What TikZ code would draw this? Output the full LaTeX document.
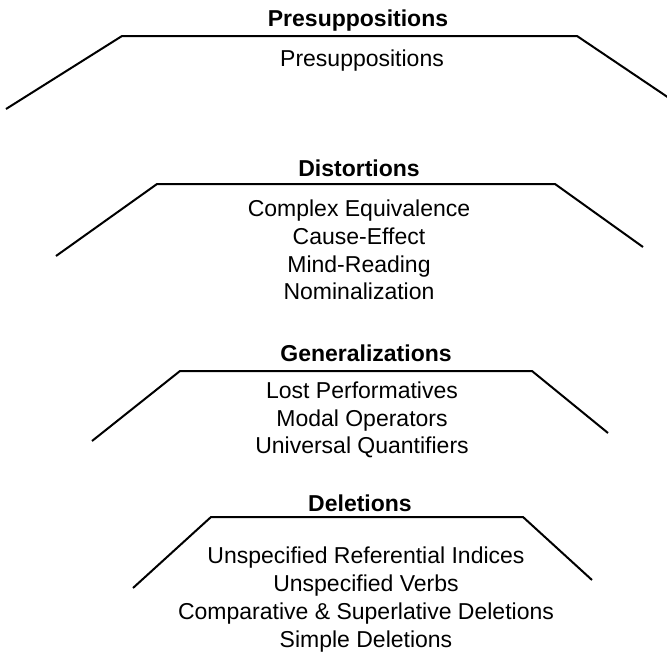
\documentclass[tikz,border=0pt]{standalone}
\usepackage{fontspec}
\setmainfont{Liberation Sans}
\begin{document}
\begin{tikzpicture}[x=1pt,y=-1pt,
  shelf/.style={line width=2pt,line join=miter},
  title/.style={anchor=base,inner sep=0pt,font=\fontsize{23}{27}\selectfont\bfseries},
  item/.style={anchor=base,inner sep=0pt,font=\fontsize{23}{27}\selectfont}]
\useasboundingbox (0,0) rectangle (667,654);
% Presuppositions
\draw[shelf] (6,109) -- (122,36) -- (577,36) -- (669,98);
\node[title] (t1) at (358,26) {Presuppositions};
\node[item] (p1) at (362,66) {Presuppositions};
% Distortions
\draw[shelf] (56,256) -- (157,184) -- (555,184) -- (643,247);
\node[title] (t2) at (359,176) {Distortions};
\node[item] (d1) at (359,216) {Complex Equivalence};
\node[item] (d2) at (359,244) {Cause-Effect};
\node[item] (d3) at (359,272) {Mind-Reading};
\node[item] (d4) at (359,299) {Nominalization};
% Generalizations
\draw[shelf] (92,441) -- (180,371) -- (532,371) -- (608,433);
\node[title] (t3) at (366,361) {Generalizations};
\node[item] (g1) at (362,398) {Lost Performatives};
\node[item] (g2) at (362,426) {Modal Operators};
\node[item] (g3) at (362,453) {Universal Quantifiers};
% Deletions
\draw[shelf] (133,588) -- (211,517) -- (523,517) -- (592,580);
\node[title] (t4) at (360,511) {Deletions};
\node[item] (e1) at (366,563) {Unspecified Referential Indices};
\node[item] (e2) at (366,591) {Unspecified Verbs};
\node[item] (e3) at (366,619) {Comparative \& Superlative Deletions};
\node[item] (e4) at (366,647) {Simple Deletions};
\end{tikzpicture}
\end{document}
